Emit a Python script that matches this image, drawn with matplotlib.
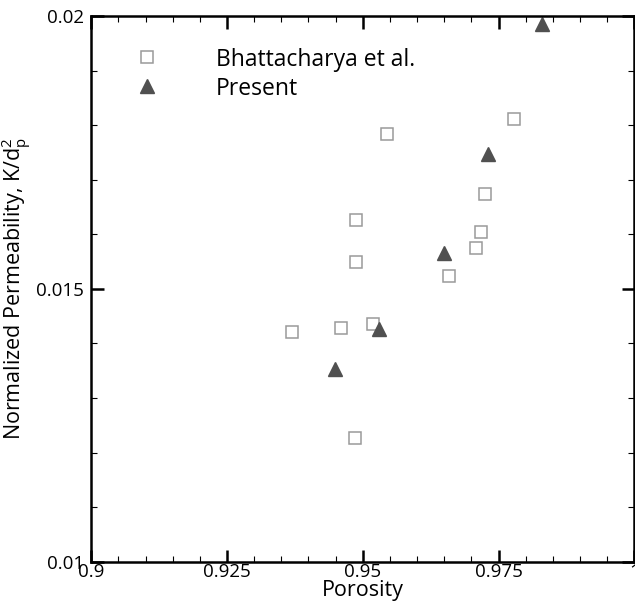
import matplotlib
matplotlib.use("Agg")
import matplotlib.pyplot as plt
from matplotlib.ticker import MultipleLocator, FixedLocator

# Bhattacharya et al. measurements
bh_porosity = [0.9369, 0.9459, 0.9485, 0.9488, 0.9488, 0.9518, 0.9545,
               0.9658, 0.9709, 0.9718, 0.9726, 0.9779]
bh_perm = [0.01421, 0.01429, 0.01227, 0.01626, 0.01550, 0.01435, 0.01783,
           0.01523, 0.01575, 0.01604, 0.01673, 0.01811]

# Present results
pr_porosity = [0.9449, 0.9529, 0.9650, 0.9730, 0.9830]
pr_perm = [0.01353, 0.01427, 0.01566, 0.01748, 0.01985]

x_ticks = [0.9, 0.925, 0.95, 0.975, 1.0]
x_tick_labels = ["0.9", "0.925", "0.95", "0.975", "1"]
y_ticks = [0.01, 0.015, 0.02]
y_tick_labels = ["0.01", "0.015", "0.02"]

plt.rcParams['font.family'] = ['Open Sans', 'DejaVu Sans']
plt.rcParams['mathtext.fontset'] = 'custom'
plt.rcParams['mathtext.rm'] = 'Open Sans'
plt.rcParams['mathtext.it'] = 'Open Sans'

fig = plt.figure(figsize=(6.35, 6.09), dpi=100)
ax = fig.add_axes([0.1438, 0.0777, 0.855, 0.896])

ax.plot(bh_porosity, bh_perm, linestyle='none', marker='s', markersize=8.5,
        markerfacecolor='white', markeredgecolor='#9a9a9a', markeredgewidth=1.1,
        label='Bhattacharya et al.', clip_on=False)
ax.plot(pr_porosity, pr_perm, linestyle='none', marker='^', markersize=10,
        markerfacecolor='#505050', markeredgecolor='#505050',
        label='Present', clip_on=False)

ax.set_xlim(0.9, 1.0)
ax.set_ylim(0.01, 0.02)
ax.xaxis.set_major_locator(FixedLocator(x_ticks))
ax.set_xticklabels(x_tick_labels)
ax.yaxis.set_major_locator(FixedLocator(y_ticks))
ax.set_yticklabels(y_tick_labels)
ax.xaxis.set_minor_locator(MultipleLocator(0.005))
ax.yaxis.set_minor_locator(MultipleLocator(0.001))

ax.tick_params(which='both', direction='in', top=True, right=True,
               color='black', labelsize=13.5)
ax.tick_params(which='major', length=9, width=1.8)
ax.tick_params(which='minor', length=4.3, width=0.8)
ax.tick_params(axis='x', which='major', pad=1)
ax.tick_params(axis='y', which='major', pad=5)
for s in ax.spines.values():
    s.set_linewidth(1.8)

ax.set_xlabel('Porosity', fontsize=15.5, labelpad=-1)
ax.set_ylabel(r'Normalized Permeability, K/d$_p^2$', fontsize=15.5, labelpad=2)

ax.legend(loc='upper left', bbox_to_anchor=(0.065, 0.958), frameon=False,
          fontsize=16.5, handletextpad=2.5, labelspacing=0.22,
          handlelength=1.0, borderaxespad=0, handleheight=0.9)

fig.savefig('out.png', dpi=100)
